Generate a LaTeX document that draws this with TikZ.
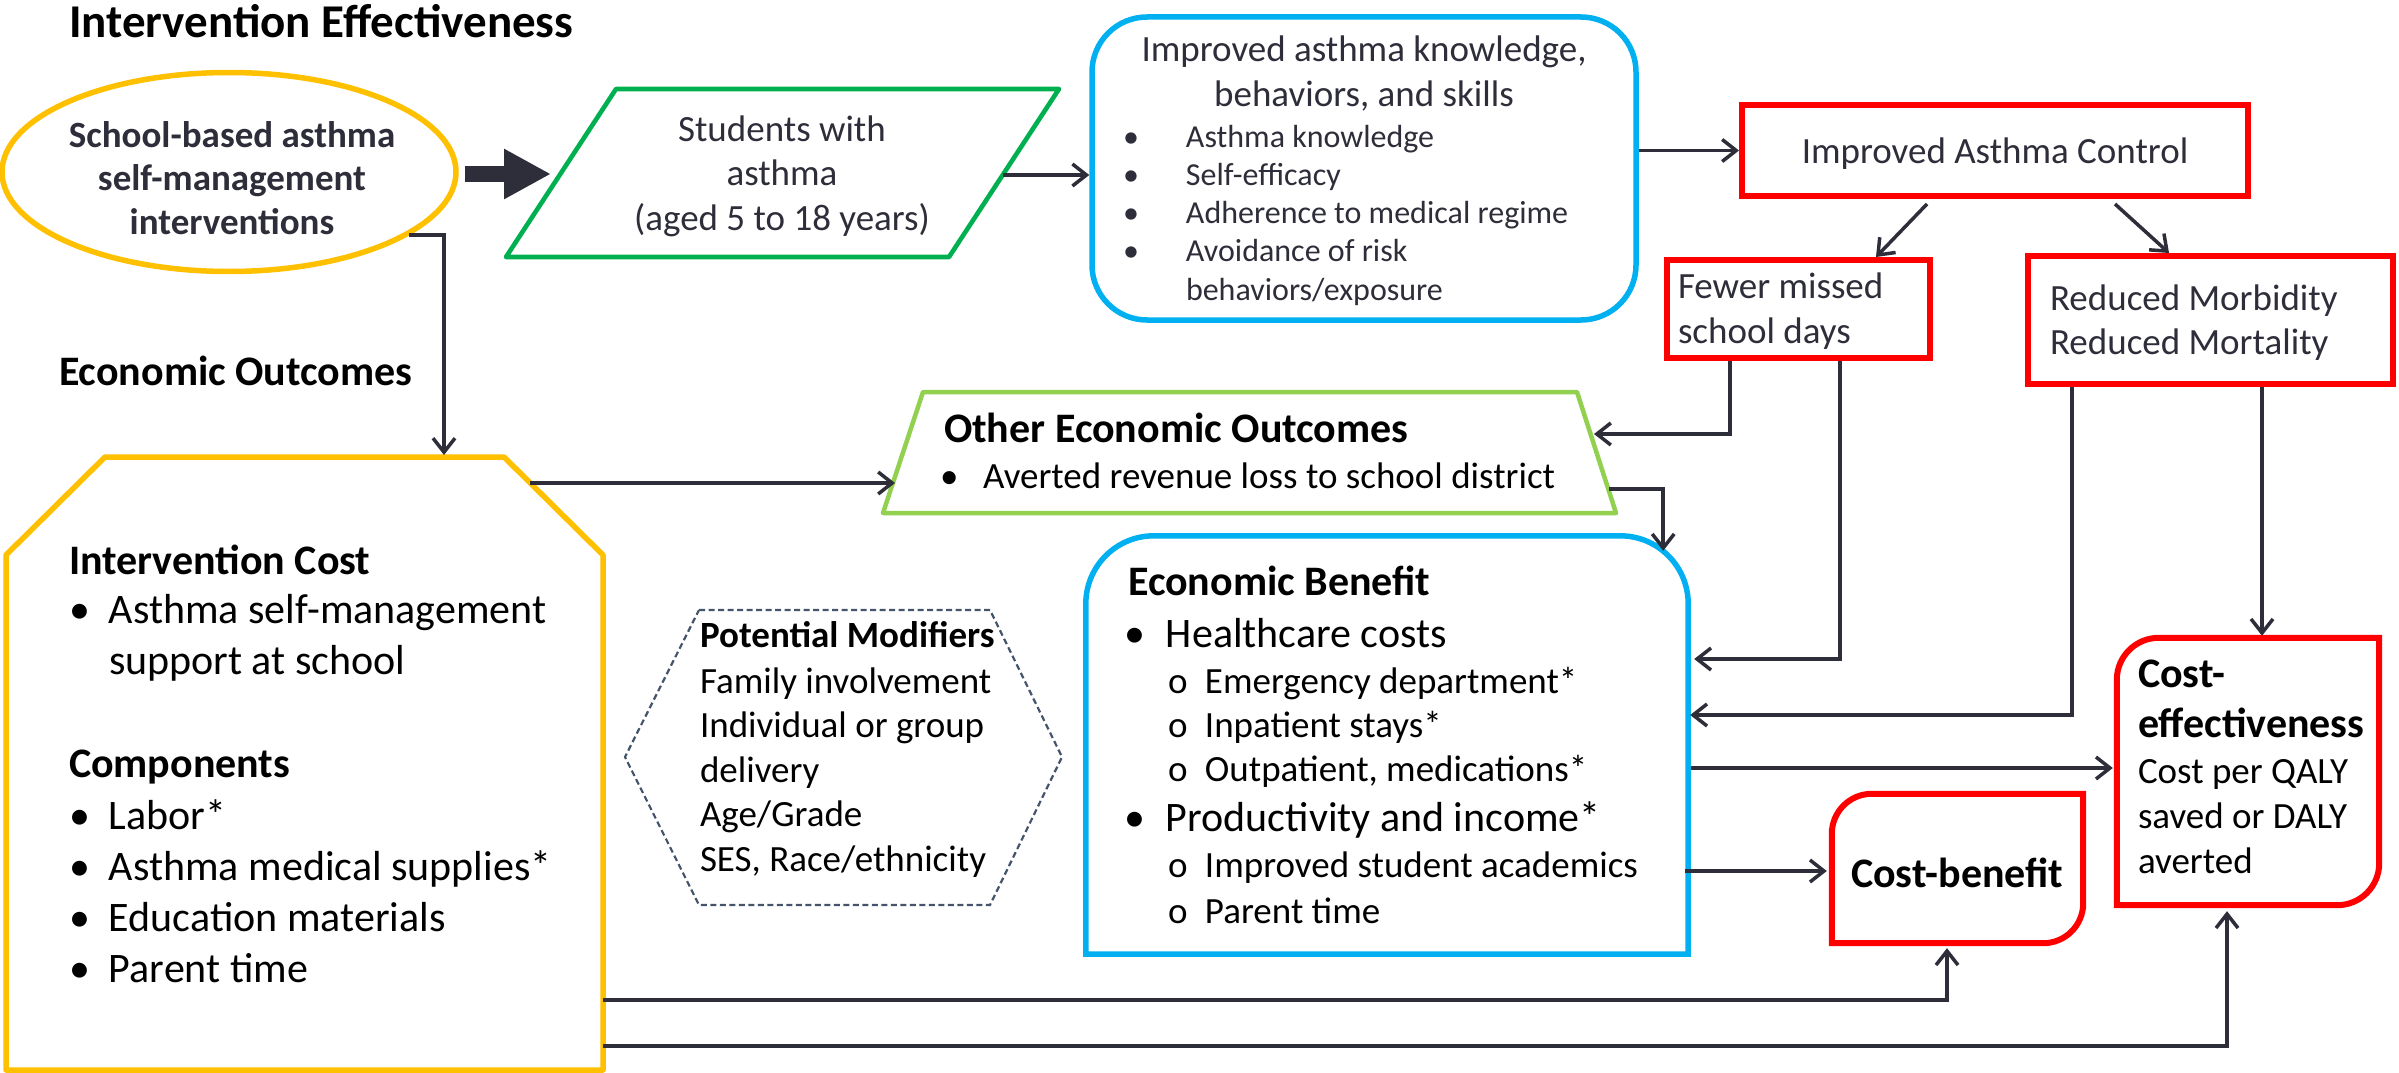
\documentclass[tikz,border=0pt]{standalone}
\usepackage{fontspec}
\setmainfont{Carlito}
\usetikzlibrary{arrows.meta,shapes.geometric,calc}
\definecolor{ink}{HTML}{2E2E3A}
\definecolor{cyel}{HTML}{FFC000}
\definecolor{cgrn}{HTML}{00B050}
\definecolor{clgrn}{HTML}{92D050}
\definecolor{cblu}{HTML}{00B0F0}
\definecolor{cred}{HTML}{FF0000}
\definecolor{chex}{HTML}{44546A}
\newcommand\VL[1]{\vtop{\halign{##\hfil\cr#1\crcr}}}
\newcommand\VC[1]{\vtop{\halign{\hfil##\hfil\cr#1\crcr}}}
\newcommand\BL[2]{\vtop{\halign{\hbox to #1{##\hfil}&##\hfil\cr#2\crcr}}}
\newcommand\fs[2]{\fontsize{#1}{#2}\selectfont}
\tikzset{
  conn/.style={draw=ink, line width=3.5pt, -{Straight Barb[length=14pt,width=22pt]}},
  txt/.style={inner sep=0pt, outer sep=0pt, text=ink},
  txtk/.style={inner sep=0pt, outer sep=0pt, text=black},
  frame/.style={inner sep=0pt},
}
\begin{document}
\begin{tikzpicture}[x=1pt,y=-1pt]
\fill[white] (0,0) rectangle (2399,1073);
\useasboundingbox (0,0) rectangle (2399,1073);

% ---------- shapes ----------
\node[frame, draw=cyel, line width=5.5pt, ellipse, minimum width=454pt, minimum height=199pt] (oval) at (229,172) {};

\coordinate (pBL) at (506,257); \coordinate (pBR) at (949,257);
\coordinate (pTR) at (1059,89); \coordinate (pTL) at (616,89);
\draw[cgrn, line width=4.6pt, line join=round] (pBL) -- (pBR) -- (pTR) -- (pTL) -- cycle;
\coordinate (paraW) at (551,174); \coordinate (paraE) at (1003,175);

\node[frame, draw=cblu, line width=5.5pt, rounded corners=55pt, minimum width=544pt, minimum height=303pt] (kb) at (1364,168.5) {};
\node[frame, draw=cred, line width=6pt, minimum width=506pt, minimum height=91pt] (iac) at (1995,150.5) {};
\node[frame, draw=cred, line width=6pt, minimum width=263pt, minimum height=98pt] (fewer) at (1798.5,309) {};
\node[frame, draw=cred, line width=6pt, minimum width=365pt, minimum height=128pt] (red2) at (2210.5,320) {};

\coordinate (oTL) at (923,392); \coordinate (oTR) at (1577,392);
\coordinate (oBR) at (1616,513); \coordinate (oBL) at (883,513);
\draw[clgrn, line width=4.5pt, line join=round] (oTL) -- (oTR) -- (oBR) -- (oBL) -- cycle;
\coordinate (oW) at (895,483); \coordinate (oE) at (1594,434); \coordinate (oE2) at (1609,489);

\coordinate (cA) at (105,457); \coordinate (cB) at (504,457); \coordinate (cC) at (603,555);
\coordinate (cD) at (603,1070); \coordinate (cE) at (6,1070); \coordinate (cF) at (6,555);
\draw[cyel, line width=5.5pt, line join=round] (cA) -- (cB) -- (cC) -- (cD) -- (cE) -- (cF) -- cycle;
\coordinate (costN) at (444,455); \coordinate (costNE) at (530,483);
\coordinate (costE1) at (603,1000); \coordinate (costE2) at (603,1046);
\coordinate (ovalOut) at (409,235);

\coordinate (hA) at (699,610); \coordinate (hB) at (990,610); \coordinate (hC) at (1062,757);
\coordinate (hD) at (990,905); \coordinate (hE) at (699,905); \coordinate (hF) at (625,757);
\draw[chex, line width=2.2pt, dash pattern=on 6pt off 3.5pt] (hA) -- (hB) -- (hC) -- (hD) -- (hE) -- (hF) -- cycle;

\node[frame, minimum width=602pt, minimum height=418pt] (eb) at (1387,745) {};
\draw[cblu, line width=5.5pt] (eb.south west) -- (eb.west) [rounded corners=68pt] -- (eb.north west) -- (eb.north east) -- (eb.east) [sharp corners] -- (eb.south east) -- cycle;

\node[frame, minimum width=262pt, minimum height=267pt] (ce) at (2248,771.5) {};
\draw[cred, line width=6pt] (ce.north) [rounded corners=42pt] -- (ce.north west) -- (ce.west) [sharp corners] -- (ce.south west) -- (ce.south) [rounded corners=42pt] -- (ce.south east) -- (ce.east) [sharp corners] -- (ce.north east) -- cycle;

\node[frame, minimum width=251pt, minimum height=149pt] (cb) at (1957.5,868.5) {};
\draw[cred, line width=6pt] (cb.north) [rounded corners=40pt] -- (cb.north west) -- (cb.west) [sharp corners] -- (cb.south west) -- (cb.south) [rounded corners=40pt] -- (cb.south east) -- (cb.east) [sharp corners] -- (cb.north east) -- cycle;

% ---------- connectors ----------
\draw[ink, line width=16pt, -{Triangle[length=47pt,width=47pt]}] ($(oval.east)+(6,2)$) -- (paraW);
\draw[conn] (paraE) -- (paraE -| kb.west);
\draw[conn] (kb.east |- iac.west) -- (iac.west);
\draw[conn] ($(iac.south)+(-68,5)$) -- ($(fewer.north)+(77.5,0)$);
\draw[conn] ($(iac.south)+(120,5)$) -- ($(red2.north)+(-41.5,0)$);
\draw[conn] (ovalOut) -| (costN);
\draw[conn] (costNE) -- (oW);
\draw[conn] ($(fewer.south)+(-68.5,0)$) |- (oE);
\draw[conn] (oE2) -| ($(eb.north east)+(-25,15)$);
\draw[conn] ($(fewer.south)+(41.5,0)$) |- ($(eb.east)+(6,-86)$);
\draw[conn] ($(red2.south)+(-138.5,0)$) |- ($(eb.east)+(2,-30)$);
\draw[conn] ($(red2.south)+(51.5,0)$) -- ($(ce.north)+(14,-2)$);
\draw[conn] ($(eb.east)+(3,23)$) -- ($(ce.west)+(-4,-3.5)$);
\draw[conn] ($(eb.east)+(-3,126)$) -- ($(cb.west)+(-5,2.5)$);
\draw[conn] (costE1) -| ($(cb.south)+(-10.5,5)$);
\draw[conn] (costE2) -| ($(ce.south)+(-21,6)$);

% ---------- texts ----------
\node[txtk, anchor=base west, font={\fs{47}{56}\bfseries}] (title) at (69,38) {Intervention Effectiveness};
\node[txtk, anchor=base west, font={\fs{42}{50}\bfseries}] (eotitle) at (59,385) {Economic Outcomes};

\node[txt, anchor=base, font={\fs{37}{43.5}\bfseries}] (ovaltxt) at (232,147) {\VC{School-based asthma\cr self-management\cr interventions}};
\node[txt, anchor=base, font={\fs{37}{44.5}}] (paratxt) at (782,141) {\VC{Students with\cr asthma\cr (aged 5 to 18 years)}};

\node[txt, anchor=base, font={\fs{37}{45}}] (kbhead) at (1364,62) {\VC{Improved asthma knowledge,\cr behaviors, and skills}};
\node[txt, anchor=base west, font={\fs{32}{38.25}}] (kblist) at (1123,147) {\BL{63pt}{•&Asthma knowledge\cr •&Self-efficacy\cr •&Adherence to medical regime\cr •&Avoidance of risk\cr &behaviors/exposure}};

\node[txt, anchor=base, font={\fs{37}{45}}] (iactxt) at (1995,163) {Improved Asthma Control};
\node[txt, anchor=base west, font={\fs{37}{45}}] (fewertxt) at (1678,298) {\VL{Fewer missed\cr school days}};
\node[txt, anchor=base west, font={\fs{37}{44}}] (redtxt) at (2050,310) {\VL{Reduced Morbidity\cr Reduced Mortality}};

\node[txtk, anchor=base west, font={\fs{42}{50}\bfseries}] (othhead) at (944,442) {Other Economic Outcomes};
\node[txtk, anchor=base west, font={\fs{37}{45}}] (othlist) at (940,488) {\BL{43pt}{•&Averted revenue loss to school district}};

\node[txtk, anchor=base west, font={\fs{42}{50}\bfseries}] (costhead) at (69,574) {Intervention Cost};
\node[txtk, anchor=base west, font={\fs{42}{51}}] (costlist) at (69,623) {\BL{40pt}{•&Asthma self-management\cr &support at school}};
\node[txtk, anchor=base west, font={\fs{42}{50}\bfseries}] (comphead) at (69,777) {Components};
\node[txtk, anchor=base west, font={\fs{42}{51}}] (complist) at (69,829) {\BL{40pt}{•&Labor*\cr •&Asthma medical supplies*\cr •&Education materials\cr •&Parent time}};

\node[txtk, anchor=base west, font={\fs{37}{45}\bfseries}] (hexhead) at (700,647) {Potential Modifiers};
\node[txtk, anchor=base west, font={\fs{37}{44.5}}] (hexlist) at (700,693) {\VL{Family involvement\cr Individual or group\cr delivery\cr Age/Grade\cr SES, Race/ethnicity}};

\node[txtk, anchor=base west, font={\fs{42}{50}\bfseries}] (ebhead) at (1128,595) {Economic Benefit};
\node[txtk, anchor=base west, font={\fs{42}{50}}] (ebb1) at (1124,647) {\BL{42pt}{•&Healthcare costs}};
\node[txtk, anchor=base west, font={\fs{37}{44}}] (ebs1) at (1168,693) {\BL{37pt}{o&Emergency department*\cr o&Inpatient stays*\cr o&Outpatient, medications*}};
\node[txtk, anchor=base west, font={\fs{42}{50}}] (ebb2) at (1124,831) {\BL{42pt}{•&Productivity and income*}};
\node[txtk, anchor=base west, font={\fs{37}{46}}] (ebs2) at (1168,877) {\BL{37pt}{o&Improved student academics\cr o&Parent time}};

\node[txtk, anchor=base west, font={\fs{42}{50}\bfseries}] (cehead) at (2138,687) {\VL{Cost-\cr effectiveness}};
\node[txtk, anchor=base west, font={\fs{37}{45}}] (cetxt) at (2138,783) {\VL{Cost per QALY\cr saved or DALY\cr averted}};
\node[txtk, anchor=base west, font={\fs{42}{50}\bfseries}] (cbtxt) at (1851,887) {Cost-benefit};
\end{tikzpicture}
\end{document}
